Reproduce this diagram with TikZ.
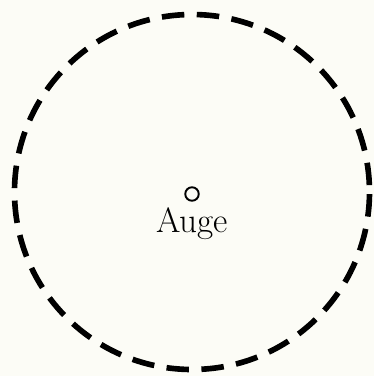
\documentclass[tikz,border=0pt]{standalone}
\usetikzlibrary{positioning}
\definecolor{paper}{RGB}{252,252,246}

\begin{document}
\begin{tikzpicture}[x=0.02cm, y=0.02cm,
    rim/.style={line width=3.2pt, dash pattern=on 12.8pt off 7.1pt, dash phase=16pt},
    eye/.style={circle, draw, line width=1.1pt, minimum size=0.27cm, inner sep=0pt}]
    \fill[paper] (-192,-184) rectangle (182,192);
    \useasboundingbox (-192,-184) rectangle (182,192);
    % --- field of view ---
    \draw[rim] (0,0) circle (177.5);
    % --- eye point ---
    \node[eye] (eye) at (0,-2) {};
    \node[anchor=base, font=\fontsize{20}{22}\selectfont] (auge) at (0,-40) {Auge};
\end{tikzpicture}
\end{document}
